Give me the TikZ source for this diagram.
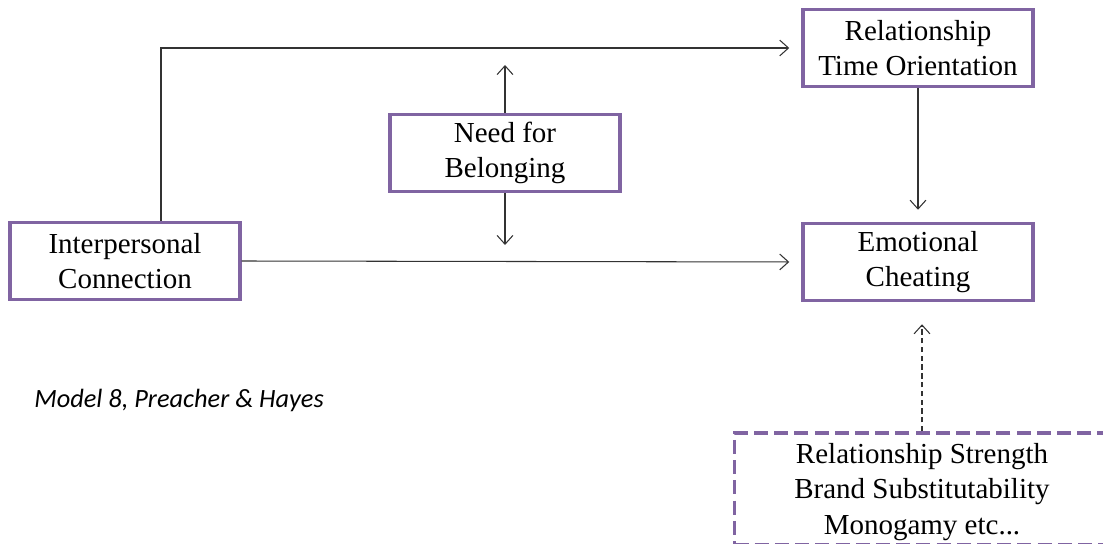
\documentclass[tikz,border=0pt]{standalone}
\usepackage{fontspec}
\setmainfont{Liberation Serif}
\newfontfamily\notefont{Carlito}
\usepackage{xcolor}
\usetikzlibrary{arrows.meta, positioning}
\definecolor{boxpurple}{RGB}{128,100,162}

\begin{document}
\begin{tikzpicture}[x=0.02cm, y=-0.02cm, >={Straight Barb[length=5pt, width=9pt]},
    varbox/.style={draw=boxpurple, line width=2pt, minimum width=4.6cm, minimum height=1.54cm,
      align=center, font=\fontsize{16.5}{20}\selectfont},
    link/.style={->, draw=black!80, line width=0.6pt, shorten >=0.24cm}]

      \useasboundingbox (0,0) rectangle (1103,544);

      \node[varbox] (ic) at (125,261) {Interpersonal\\Connection};
      \node[varbox] (nfb) at (505,153) {Need for\\Belonging};
      \node[varbox] (rto) at (918,48) {Relationship\\Time Orientation};
      \node[varbox] (ec) at (918,262) {Emotional\\Cheating};
      \node[varbox, dash pattern=on 8pt off 3.5pt, minimum width=7.5cm, minimum height=2.24cm] (mods) at (922,489) {};
      \node[align=center, font=\fontsize{16.5}{20}\selectfont, below=0.06cm of mods.center, anchor=center] (modstext)
        {Relationship Strength\\Brand Substitutability\\Monogamy etc...};
      \node[font=\notefont\itshape\fontsize{15}{18}\selectfont] (note) at (179,400) {Model 8, Preacher \& Hayes};

      \coordinate (nfbup) at (505,65);
      \coordinate (nfbdown) at (505,245);

      \draw[link] ([xshift=0.72cm]ic.north) |- (rto.west);
      \draw[link] (ic.east) -- (ec.west);
      \draw[link] (rto.south) -- (ec.north);
      \draw[link, shorten >=0pt] (nfb.north) -- (nfbup);
      \draw[link, shorten >=0pt] (nfb.south) -- (nfbdown);
      \draw[link, densely dashed, shorten >=0.44cm] (mods.north) -- (mods.north |- ec.south);

    \end{tikzpicture}
\end{document}
